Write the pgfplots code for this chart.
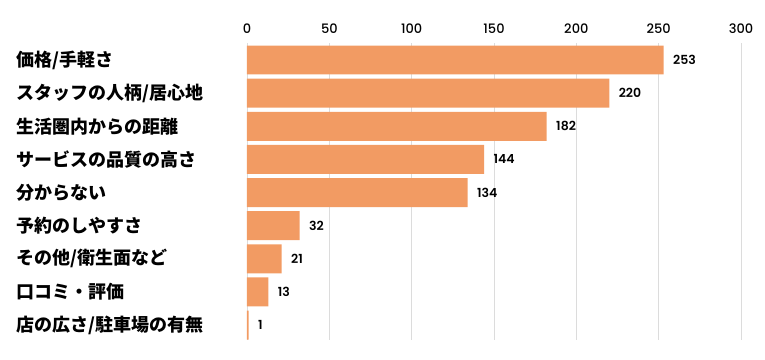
\documentclass[border=0pt]{standalone}
\usepackage{fontspec}
\usepackage{pgfplots}
\pgfplotsset{compat=1.18}
\setmainfont{Noto Sans CJK JP}
\newfontfamily\popm{Poppins Medium}
\newfontfamily\pops{Poppins SemiBold}
\definecolor{barc}{RGB}{242,155,99}
\definecolor{gridc}{RGB}{220,220,220}
\begin{document}
\begin{tikzpicture}
\begin{axis}[
  scale only axis,
  width=494pt, height=297pt,
  xmin=0, xmax=300,
  ymin=-0.513, ymax=8.45,
  y dir=reverse,
  xbar,
  bar width=0.875,
  axis line style={draw=none},
  xtick={0,50,100,150,200,250,300},
  xticklabel pos=upper,
  xmajorgrids,
  major grid style={gridc, line width=0.8pt},
  major tick length=0pt,
  ytick={0,...,8},
  yticklabels={価格/手軽さ, スタッフの人柄/居心地, 生活圏内からの距離, サービスの品質の高さ, 分からない, 予約のしやすさ, その他/衛生面など, 口コミ・評価, 店の広さ/駐車場の有無},
  yticklabel style={anchor=west, inner sep=0pt, xshift=-231pt, font=\fontsize{18}{20}\selectfont\bfseries},
  xticklabel style={font=\popm\fontsize{13}{15}\selectfont, inner sep=0pt, yshift=9pt},
  /pgf/number format/assume math mode=true,
  nodes near coords,
  nodes near coords style={font=\pops\fontsize{12.5}{14}\selectfont, xshift=6pt, black},
  point meta=x,
]
\addplot[fill=barc, draw=none] coordinates {
(253,0) (220,1) (182,2) (144,3) (134,4) (32,5) (21,6) (13,7) (1,8)
};
\end{axis}
\path (current axis.south west) ++(-247pt,-19pt) rectangle ++(765pt,359pt);
\end{tikzpicture}
\end{document}
